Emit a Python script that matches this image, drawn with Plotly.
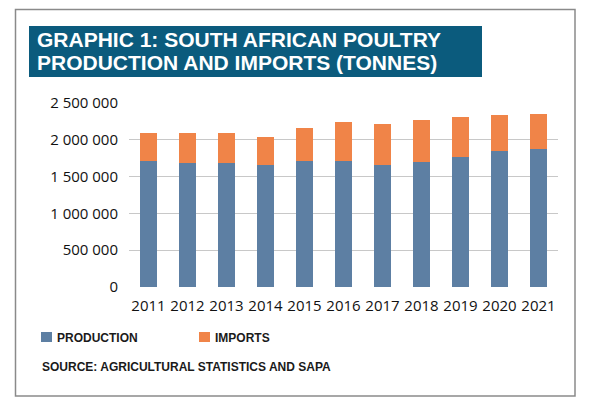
import plotly.graph_objects as go

# values (tonnes)
years = ["2011", "2012", "2013", "2014", "2015", "2016",
         "2017", "2018", "2019", "2020", "2021"]
production = [1716000, 1680000, 1689000, 1662000, 1714000, 1707000,
              1653000, 1698000, 1762000, 1843000, 1871000]
imports = [372000, 408000, 399000, 372000, 442000, 530000,
           566000, 571000, 544000, 494000, 475000]
series_names = ["PRODUCTION", "IMPORTS"]
series_colors = ["#5d7fa3", "#f08448"]
title_lines = ["GRAPHIC 1: SOUTH AFRICAN POULTRY",
               "PRODUCTION AND IMPORTS (TONNES)"]
source_text = "SOURCE: AGRICULTURAL STATISTICS AND SAPA"
y_ticks = [0, 500000, 1000000, 1500000, 2000000, 2500000]

W, H = 600, 414
OFF = 8  # page body margin, the figure is drawn 8px right/down
# plot area in page pixels
L, R, T, B = 129, 558, 103, 287


def px(x):
    return (x - L) / (R - L)


def py(y):
    return (B - y) / (B - T)


fig = go.Figure()
for name, vals, col in zip(series_names, [production, imports], series_colors):
    fig.add_trace(go.Bar(x=years, y=vals, name=name, marker_color=col,
                         marker_line_width=0, showlegend=False))

fig.update_layout(
    width=W, height=H,
    barmode="stack", bargap=0.56,
    margin=dict(l=L - OFF, r=W - R + OFF, t=T - OFF, b=H - B + OFF),
    plot_bgcolor="white", paper_bgcolor="white",
    separators=". ",
    font=dict(family="Open Sans", size=15, color="#111111"),
)
fig.update_yaxes(range=[0, 2500000], tickvals=y_ticks, tickformat=",d",
                 showgrid=True, gridcolor="#c8c8c8", gridwidth=1,
                 zeroline=False, showline=False, ticks="", ticklabelstandoff=10)
# invisible ticks push the year labels down a little
fig.update_xaxes(showgrid=False, showline=False, ticks="outside", ticklen=5,
                 tickcolor="rgba(0,0,0,0)")

shapes = []
# outer frame
shapes.append(dict(type="rect", xref="paper", yref="paper",
                   x0=px(15.5), x1=px(575), y0=py(396), y1=py(9.5),
                   line=dict(color="#8a8a8a", width=1.5), layer="below"))
# title box
shapes.append(dict(type="rect", xref="paper", yref="paper",
                   x0=px(29), x1=px(482), y0=py(77), y1=py(26),
                   fillcolor="#0b5b7d", line_width=0))

ann = []
for i, line in enumerate(title_lines):
    ann.append(dict(text="<b>" + line + "</b>", xref="paper", yref="paper",
                    x=px(35), y=py(40 + 23 * i), xanchor="left", yanchor="middle",
                    showarrow=False,
                    font=dict(family="Liberation Sans", size=21, color="white")))

# legend
leg_x = [41, 199]
for name, col, x0 in zip(series_names, series_colors, leg_x):
    shapes.append(dict(type="rect", xref="paper", yref="paper",
                       x0=px(x0), x1=px(x0 + 11), y0=py(342), y1=py(332),
                       fillcolor=col, line_width=0))
    ann.append(dict(text="<b>" + name + "</b>", xref="paper", yref="paper",
                    x=px(x0 + 14), y=py(337.5), xanchor="left", yanchor="middle",
                    showarrow=False,
                    font=dict(family="Liberation Sans", size=12, color="#1a1a1a")))

ann.append(dict(text="<b>" + source_text + "</b>", xref="paper", yref="paper",
                x=px(40), y=py(367), xanchor="left", yanchor="middle",
                showarrow=False,
                font=dict(family="Liberation Sans", size=12, color="#1a1a1a")))

fig.update_layout(shapes=shapes, annotations=ann)
fig.write_html("out.html")
